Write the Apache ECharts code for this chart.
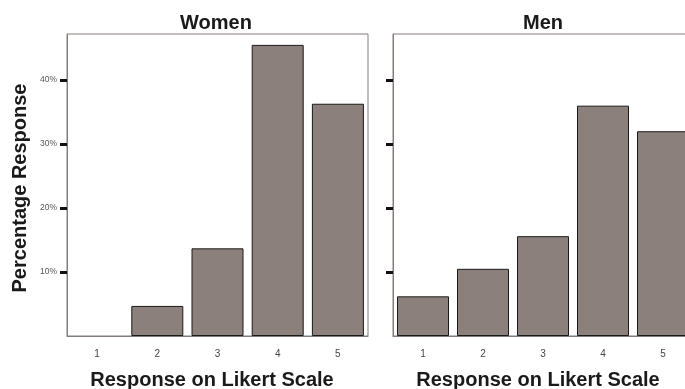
<!DOCTYPE html>
<html>
<head>
<meta charset="utf-8">
<script src="https://cdn.jsdelivr.net/npm/echarts@6/dist/echarts.min.js"></script>
<style>
  html, body { margin: 0; padding: 0; background: #fff; }
  #chart { width: 685px; height: 389px; }
</style>
</head>
<body>
<div id="chart"></div>
<script>
// Likert response categories and percentage of respondents per group
const categories = ['1', '2', '3', '4', '5'];
const womenPct = [0, 4.7, 13.7, 45.5, 36.3];
const menPct = [6.2, 10.5, 15.6, 36.0, 32.0];
const yTickValues = [10, 20, 30, 40];
const panelTitles = ['Women', 'Men'];

const FONT = 'Liberation Sans, Arial, Helvetica, sans-serif';
const BAR_FILL = '#8c807c';
const FRAME = '#857d7a';
const Y_MAX = 47.2;

const chart = echarts.init(document.getElementById('chart'));

// the second panel runs past the right edge of the canvas
function grid(left, width) {
  return { left: left, width: width, top: 34, height: 302, show: true,
           outerBoundsMode: 'none', containLabel: false,
           borderColor: FRAME, borderWidth: 1, backgroundColor: '#fff' };
}

function xAxis(i) {
  return {
    type: 'category', gridIndex: i, data: categories,
    axisLine: { lineStyle: { color: FRAME, width: 1 } },
    axisTick: { alignWithLabel: true, length: 5, lineStyle: { color: '#111', width: 3 } },
    axisLabel: { color: '#444', fontSize: 10, fontFamily: FONT, margin: 13 }
  };
}

function yAxis(i, labels) {
  return {
    type: 'value', gridIndex: i, min: 0, max: Y_MAX, interval: 10,
    splitLine: { show: false },
    axisLine: { show: true, lineStyle: { color: FRAME, width: 1 } },
    axisTick: { show: true, length: 7, customValues: yTickValues,
                lineStyle: { color: '#111', width: 3 } },
    axisLabel: { show: labels, customValues: yTickValues, formatter: '{value}%',
                 color: '#555', fontSize: 8.5, fontFamily: FONT, margin: 10 }
  };
}

function barSeries(i, values) {
  // an empty category gets no outline
  const data = values.map(v => v === 0 ? { value: v, itemStyle: { borderWidth: 0 } } : v);
  return {
    type: 'bar', xAxisIndex: i, yAxisIndex: i, data: data, barWidth: 52,
    itemStyle: { color: BAR_FILL, borderColor: '#1a1a1a', borderWidth: 1 },
    silent: true
  };
}

function label(text, x, y, rotation) {
  return {
    type: 'text', x: x, y: y, rotation: rotation || 0,
    style: { text: text, fill: '#1a1a1a', font: 'bold 20px ' + FONT,
             align: 'center', verticalAlign: 'middle' }
  };
}

chart.setOption({
  animation: false,
  grid: [grid(67, 301), grid(393, 300)],
  xAxis: [xAxis(0), xAxis(1)],
  yAxis: [yAxis(0, true), yAxis(1, false)],
  series: [barSeries(0, womenPct), barSeries(1, menPct)],
  graphic: [
    label(panelTitles[0], 216, 23),
    label(panelTitles[1], 543, 23),
    label('Response on Likert Scale', 212, 380),
    label('Response on Likert Scale', 538, 380),
    label('Percentage Response', 20, 188, Math.PI / 2)
  ]
});
</script>
</body>
</html>
